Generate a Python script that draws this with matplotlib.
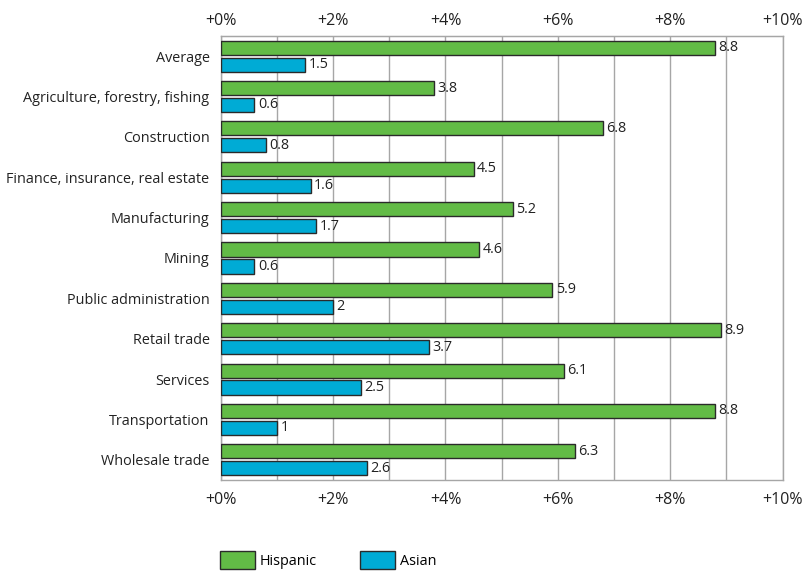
"""Hispanic and Asian share change by industry, horizontal bar chart"""

import matplotlib
matplotlib.use("Agg")
import matplotlib.pyplot as plt
import numpy as np

plt.rcParams['font.family'] = ['Open Sans', 'DejaVu Sans']

categories = [
    "Average",
    "Agriculture, forestry, fishing",
    "Construction",
    "Finance, insurance, real estate",
    "Manufacturing",
    "Mining",
    "Public administration",
    "Retail trade",
    "Services",
    "Transportation",
    "Wholesale trade",
]
hispanic = [8.8, 3.8, 6.8, 4.5, 5.2, 4.6, 5.9, 8.9, 6.1, 8.8, 6.3]
asian = [1.5, 0.6, 0.8, 1.6, 1.7, 0.6, 2, 3.7, 2.5, 1, 2.6]
tick_vals = [0, 2, 4, 6, 8, 10]
tick_labels = ["+0%", "+2%", "+4%", "+6%", "+8%", "+10%"]

green = "#62bb46"
blue = "#00abd5"
edge = "#2a2a2a"
grid_col = "#a6a6a6"
fs = 10.4
xfs = 11.5

fig = plt.figure(figsize=(8.04, 5.71), dpi=100)
ax = fig.add_axes([0.2745, 0.1594, 0.699, 0.7776])

y = np.arange(len(categories))
h = 0.35
off = 0.21
bars_h = ax.barh(y - off, hispanic, height=h, color=green, edgecolor=edge,
                 linewidth=1, label="Hispanic", zorder=3)
bars_a = ax.barh(y + off, asian, height=h, color=blue, edgecolor=edge,
                 linewidth=1, label="Asian", zorder=3)

# value labels just past the bar ends
for bars, vals in ((bars_h, hispanic), (bars_a, asian)):
    for b, v in zip(bars, vals):
        ax.text(b.get_width() + 0.06, b.get_y() + b.get_height() / 2, f"{v:g}",
                va="center", ha="left", fontsize=fs, color="#222222", zorder=4)

ax.set_xlim(0, 10)
ax.set_ylim(len(categories) - 0.5, -0.5)
ax.set_yticks(y)
ax.set_yticklabels(categories, fontsize=fs, color="#222222")
ax.set_xticks(tick_vals)
ax.set_xticklabels(tick_labels, fontsize=xfs, color="#222222")
ax.set_xticks(np.arange(0, 11, 1), minor=True)
ax.tick_params(axis="x", which="both", length=0, pad=9)
ax.tick_params(axis="y", length=0, pad=8)
ax.grid(axis="x", which="both", color=grid_col, linewidth=1, zorder=0)
for s in ax.spines.values():
    s.set_color(grid_col)
    s.set_linewidth(1)

# same labels along the top
top = ax.secondary_xaxis("top")
top.set_xticks(tick_vals)
top.set_xticklabels(tick_labels, fontsize=xfs, color="#222222")
top.tick_params(length=0, pad=5)
top.spines["top"].set_color(grid_col)

fig.legend(handles=[bars_h, bars_a], labels=["Hispanic", "Asian"],
           loc="upper left", bbox_to_anchor=(220 / 804, 1 - 551 / 571),
           ncol=2, frameon=False, fontsize=fs, handlelength=2.4,
           handleheight=1.55, handletextpad=0.35, columnspacing=3.0,
           borderpad=0, borderaxespad=0)

fig.savefig("out.png", dpi=100)
